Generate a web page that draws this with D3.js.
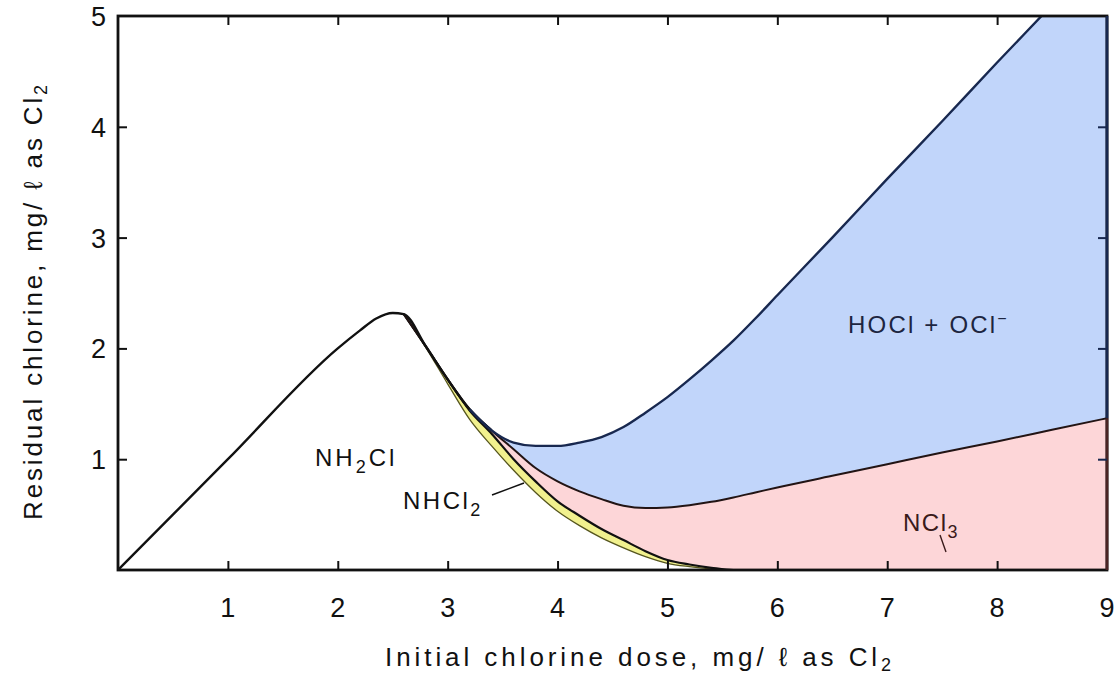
<!DOCTYPE html>
<html>
<head>
<meta charset="utf-8">
<script src="https://cdn.jsdelivr.net/npm/d3@7"></script>
<style>
body{margin:0;background:#fff;}
text{font-family:"Liberation Sans Narrow","Liberation Sans",Arial,sans-serif;fill:#111;}
</style>
</head>
<body>
<script>
// initial chlorine dose, mg/l as Cl2
var dose=[0,1,2,2.2,2.35,2.5,2.6,2.8,3.0,3.2,3.4,3.6,3.8,4.0,4.2,4.4,4.6,4.8,5.0,5.2,5.4,5.6,5.8,6.0,6.5,7.0,7.5,8.0,8.5,9.0];
// residual of each species (stacked)
var nh2cl=[0,1.0,2.0,2.16,2.27,2.32,2.31,2.01,1.68,1.36,1.12,0.90,0.70,0.53,0.40,0.29,0.20,0.12,0.06,0.03,0.01,0,0,0,0,0,0,0,0,0];
var nhcl2=[0,0,0,0,0,0,0,0.01,0.04,0.08,0.11,0.10,0.10,0.09,0.09,0.08,0.07,0.05,0.03,0.02,0.01,0,0,0,0,0,0,0,0,0];
var ncl3=[0,0,0,0,0,0,0,0,0,0.01,0.03,0.09,0.12,0.18,0.22,0.27,0.31,0.39,0.475,0.535,0.595,0.655,0.70,0.745,0.85,0.955,1.06,1.16,1.265,1.37];
var freeCl=[0,0,0,0,0,0,0,0,0,0,0,0.06,0.20,0.32,0.44,0.56,0.71,0.86,0.995,1.135,1.275,1.415,1.57,1.735,2.15,2.575,2.99,3.42,3.835,4.26];
var xTicks=[1,2,3,4,5,6,7,8,9];
var yTicks=[1,2,3,4,5];

var W=1117,H=680;
var lewo=118,prawo=1107,gora=16,dol=570;

var svg=d3.select("body").append("svg").attr("width",W).attr("height",H);

var x=d3.scaleLinear().domain([0,9]).range([lewo,prawo]);
var y=d3.scaleLinear().domain([0,5]).range([dol,gora]);

var wiersze=dose.map(function(d,i){
	return {dose:d,nh2cl:nh2cl[i],nhcl2:nhcl2[i],ncl3:ncl3[i],free:freeCl[i]};
});
var stos=d3.stack().keys(["nh2cl","nhcl2","ncl3","free"])(wiersze);

svg.append("defs").append("clipPath").attr("id","ramka")
	.append("rect").attr("x",lewo).attr("y",gora).attr("width",prawo-lewo).attr("height",dol-gora);

var wykres=svg.append("g").attr("clip-path","url(#ramka)");

var kolory={nhcl2:"#f1f18e",ncl3:"#fdd6d8",free:"#c1d5fa"};
var obszar=d3.area()
	.x(function(d){return x(d.data.dose);})
	.y0(function(d){return y(d[0]);})
	.y1(function(d){return y(d[1]);})
	.curve(d3.curveMonotoneX);

stos.forEach(function(s){
	if(!kolory[s.key]) return;
	wykres.append("path").attr("d",obszar(s)).attr("fill",kolory[s.key]).attr("stroke","none");
});

var linia=d3.line()
	.x(function(d){return x(d.data.dose);})
	.y(function(d){return y(d[1]);})
	.curve(d3.curveMonotoneX);

function fragment(s,od,doX){
	return s.filter(function(d){return d.data.dose>=od&&d.data.dose<=doX;});
}
// NH2Cl edge (thin olive), NH2Cl+NHCl2 (black), +NCl3, total
wykres.append("path").attr("d",linia(fragment(stos[0],2.6,5.8))).attr("fill","none").attr("stroke","#55551e").attr("stroke-width",1.3);
wykres.append("path").attr("d",linia(fragment(stos[1],2.6,5.8))).attr("fill","none").attr("stroke","#111").attr("stroke-width",2.2);
wykres.append("path").attr("d",linia(fragment(stos[2],2.6,9))).attr("fill","none").attr("stroke","#221414").attr("stroke-width",2);
wykres.append("path").attr("d",linia(fragment(stos[3],0,3.4))).attr("fill","none").attr("stroke","#111").attr("stroke-width",2.4);
wykres.append("path").attr("d",linia(fragment(stos[3],3.2,9))).attr("fill","none").attr("stroke","#18284f").attr("stroke-width",2.4);

// frame
svg.append("rect").attr("x",lewo).attr("y",gora).attr("width",prawo-lewo).attr("height",dol-gora)
	.attr("fill","none").attr("stroke","#111").attr("stroke-width",2.8);
var c9=stos[2][stos[2].length-1][1];
svg.append("line").attr("x1",prawo).attr("x2",prawo).attr("y1",gora).attr("y2",y(c9))
	.attr("stroke","#18284f").attr("stroke-width",2.8);
svg.append("line").attr("x1",prawo).attr("x2",prawo).attr("y1",y(c9)).attr("y2",dol)
	.attr("stroke","#4a2424").attr("stroke-width",2.8);

// inward ticks on all sides
var tl=9;
svg.append("g").attr("transform","translate(0,"+dol+")")
	.call(d3.axisTop(x).tickValues(xTicks.slice(0,-1)).tickSize(tl).tickFormat(""))
	.call(function(g){g.select(".domain").remove();g.selectAll("line").attr("stroke","#111").attr("stroke-width",2);});
svg.append("g").attr("transform","translate(0,"+gora+")")
	.call(d3.axisBottom(x).tickValues(xTicks.slice(0,-1)).tickSize(tl).tickFormat(""))
	.call(function(g){g.select(".domain").remove();g.selectAll("line").attr("stroke","#111").attr("stroke-width",2);});
svg.append("g").attr("transform","translate("+lewo+",0)")
	.call(d3.axisRight(y).tickValues(yTicks.slice(0,-1)).tickSize(tl).tickFormat(""))
	.call(function(g){g.select(".domain").remove();g.selectAll("line").attr("stroke","#111").attr("stroke-width",2);});
svg.append("g").attr("transform","translate("+prawo+",0)")
	.call(d3.axisLeft(y).tickValues(yTicks.slice(0,-1)).tickSize(tl).tickFormat(""))
	.call(function(g){g.select(".domain").remove();g.selectAll("line").attr("stroke","#18284f").attr("stroke-width",2);});

// tick labels
svg.selectAll(".xl").data(xTicks).enter().append("text")
	.attr("x",function(d){return x(d);}).attr("y",dol+47)
	.attr("text-anchor","middle").attr("font-size",27).text(function(d){return d;});
svg.selectAll(".yl").data(yTicks).enter().append("text")
	.attr("x",lewo-12).attr("y",function(d){return y(d)+10;})
	.attr("text-anchor","end").attr("font-size",27).text(function(d){return d;});

// axis titles, stretched to the width seen in the scan
function rozciagnij(t,cel){
	var n=t.text().length;
	var dl=t.node().getComputedTextLength();
	t.style("letter-spacing",((cel-dl)/n)+"px");
}
var tx=svg.append("text").attr("x",385).attr("y",666).attr("font-size",26);
tx.append("tspan").text("Initial chlorine dose, mg/ \u2113 as Cl");
tx.append("tspan").attr("dy",5).attr("font-size",18).text("2");
rozciagnij(tx,510);

var ty=svg.append("text").attr("transform","translate(42,520) rotate(-90)").attr("font-size",26);
ty.append("tspan").text("Residual chlorine, mg/ \u2113 as Cl");
ty.append("tspan").attr("dy",5).attr("font-size",18).text("2");
rozciagnij(ty,438);

// region labels
function etykieta(px,py,czesci,odstep){
	var t=svg.append("text").attr("x",px).attr("y",py).attr("font-size",24)
		.style("font-family","'Liberation Sans',Arial,sans-serif").style("letter-spacing",odstep+"px");
	czesci.forEach(function(c){
		var sp=t.append("tspan").text(c[0]);
		if(c[1]=="sub") sp.attr("dy",7).attr("font-size",18);
		if(c[1]=="back") sp.attr("dy",-7);
		if(c[1]=="sup") sp.attr("dy",-9).attr("font-size",16);
	});
	return t;
}
etykieta(315,466,[["NH"],["2","sub"],["Cl","back"]],3);
etykieta(403,509,[["NHCl"],["2","sub"]],2.5);
etykieta(848,333,[["HOCl  +  OCl"],["\u2212","sup"]],2.2).style("fill","#1d2540");
etykieta(903,531,[["NCl"],["3","sub"]],1.5).style("fill","#3a1a1a");

// leader lines
svg.append("line").attr("x1",492).attr("y1",495).attr("x2",524).attr("y2",483).attr("stroke","#111").attr("stroke-width",1.6);
svg.append("line").attr("x1",940).attr("y1",535).attr("x2",946).attr("y2",552).attr("stroke","#3a1a1a").attr("stroke-width",1.4);
</script>
</body>
</html>
